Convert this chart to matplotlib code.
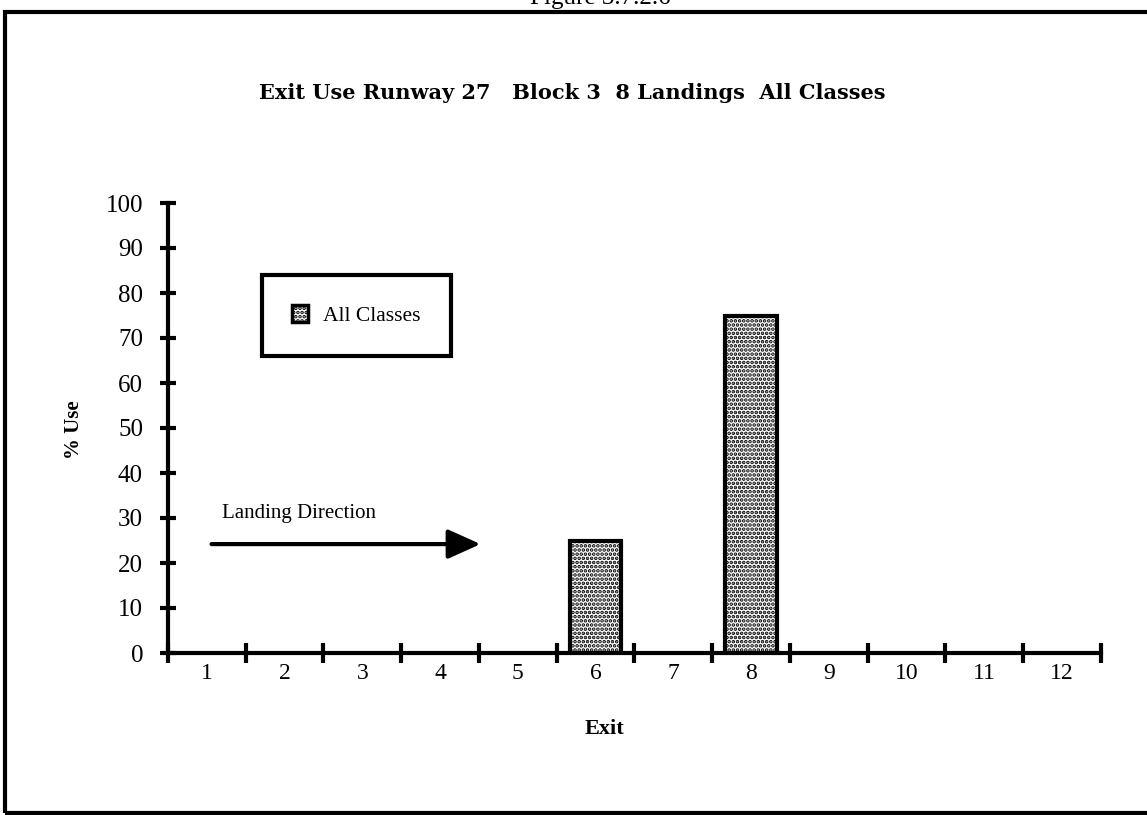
import matplotlib
matplotlib.use("Agg")
import matplotlib.pyplot as plt
from matplotlib.patches import Rectangle, Patch

plt.rcParams['font.family'] = ['Liberation Serif', 'DejaVu Serif']
plt.rcParams['hatch.linewidth'] = 1.8

# exit use data
exits = [1, 2, 3, 4, 5, 6, 7, 8, 9, 10, 11, 12]
use_pct = [0, 0, 0, 0, 0, 25, 0, 75, 0, 0, 0, 0]
y_ticks = [0, 10, 20, 30, 40, 50, 60, 70, 80, 90, 100]
title = "Exit Use Runway 27   Block 3  8 Landings  All Classes"

fig = plt.figure(figsize=(11.47, 8.15), dpi=100)
ax = fig.add_axes([168/1147, 1-653/815, 933/1147, 450/815])

# only the non-zero exits get a bar
bx = [e for e, u in zip(exits, use_pct) if u > 0]
by = [u for u in use_pct if u > 0]
ax.bar(bx, by, width=0.66, facecolor='white', edgecolor='black',
       linewidth=3, hatch='....', zorder=3)

ax.set_xlim(0.5, 12.5)
ax.set_ylim(0, 100)
for s in ['top', 'right']:
    ax.spines[s].set_visible(False)
for s in ['left', 'bottom']:
    ax.spines[s].set_linewidth(3)

ax.set_yticks(y_ticks)
ax.set_yticklabels([str(t) for t in y_ticks], fontsize=18)
ax.tick_params(axis='y', direction='inout', length=12, width=3, pad=12)

ax.set_xticks(exits)
ax.set_xticklabels([str(e) for e in exits], fontsize=17)
ax.tick_params(axis='x', which='major', length=0, pad=7)
ax.set_xticks([e + 0.5 for e in [0] + exits], minor=True)
ax.tick_params(axis='x', which='minor', direction='inout', length=15, width=3)

ax.set_xlabel("Exit", fontsize=16, fontweight='bold')
ax.xaxis.set_label_coords((604-168)/933, -(719-653)/450)
ax.set_ylabel("% Use", fontsize=15, fontweight='bold')
ax.yaxis.set_label_coords(-(168-84)/933, (653-430)/450)

fig.text(572/1147, 1-93/815, title, ha='center', va='center',
         fontsize=15, fontweight='bold', family='DejaVu Serif')

# landing direction arrow
ax.text(1.19, 31, "Landing Direction", fontsize=15, va='center')
ax.annotate("", xy=(4.52, 24.2), xytext=(1.06, 24.2),
            arrowprops=dict(arrowstyle='-|>,head_length=2.0,head_width=0.9',
                            color='black', lw=3, shrinkA=0, shrinkB=0))

leg = ax.legend(handles=[Patch(facecolor='white', edgecolor='black', hatch='....',
                               linewidth=2.5, label='All Classes')],
                loc='upper left', bbox_to_anchor=(262/1147, 1-275/815),
                bbox_transform=fig.transFigure, fontsize=15.5, fancybox=False,
                framealpha=1, borderpad=1.4, handlelength=0.75, handleheight=0.8,
                handletextpad=0.7, borderaxespad=0)
leg.get_frame().set_edgecolor('black')
leg.get_frame().set_linewidth(3)

# page frame and clipped heading
fig.patches.append(Rectangle((5/1147, 2/815), 1.2, 1-14/815, transform=fig.transFigure,
                             fill=False, edgecolor='black', linewidth=3))
fig.text(600/1147, 1-4/815, "Figure 3.7.2.6", ha='center', va='baseline', fontsize=18)

fig.savefig("out.png", dpi=100)
